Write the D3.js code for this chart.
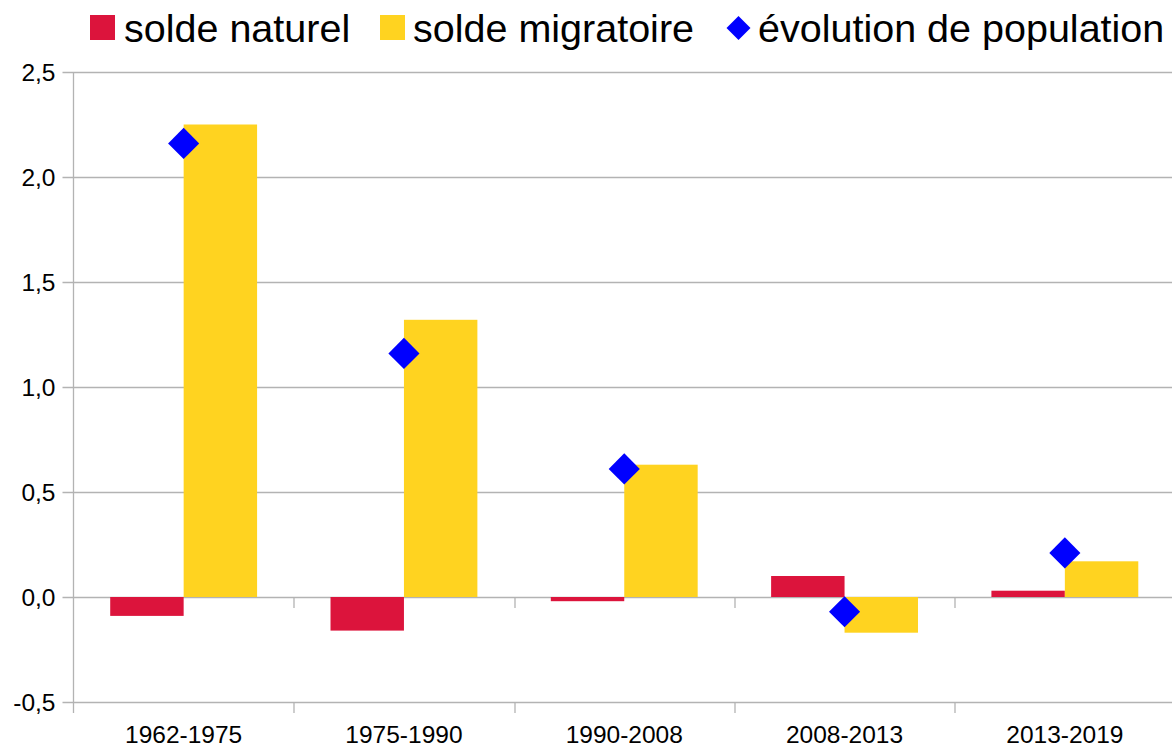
<!DOCTYPE html>
<html>
<head>
<meta charset="utf-8">
<script src="https://cdn.jsdelivr.net/npm/d3@7"></script>
<style>
  body { margin: 0; background: #fff; }
  svg { display: block; font-family: "Liberation Sans", Arial, sans-serif; }
</style>
</head>
<body>
<div id="chart"></div>
<script>
// data
var periods = ["1962-1975", "1975-1990", "1990-2008", "2008-2013", "2013-2019"];
var soldeNaturel = [-0.09, -0.16, -0.02, 0.10, 0.03];
var soldeMigratoire = [2.25, 1.32, 0.63, -0.17, 0.17];
var evolution = [2.16, 1.16, 0.61, -0.07, 0.21];
var yTicks = [-0.5, 0, 0.5, 1, 1.5, 2, 2.5];
var seriesNames = ["solde naturel", "solde migratoire", "évolution de population"];

var W = 1172, H = 748;
var margin = { top: 72, right: -3, bottom: 46, left: 73.5 },
    width = W - margin.left - margin.right,
    height = H - margin.top - margin.bottom;

var svg = d3.select("#chart").append("svg")
    .attr("width", W)
    .attr("height", H);

var g = svg.append("g")
    .attr("transform", "translate(" + margin.left + "," + margin.top + ")");

var x = d3.scaleBand().domain(periods).range([0, width]);
var xSub = d3.scaleBand().domain(["n", "m"]).range([x.bandwidth() / 6, x.bandwidth() * 5 / 6]);
var y = d3.scaleLinear().domain([-0.5, 2.5]).range([height, 0]);

var gridColor = "#b3b3b3";

// horizontal grid + y labels
g.selectAll(".grid").data(yTicks).enter().append("line")
    .attr("x1", -11).attr("x2", width)
    .attr("y1", function (d) { return Math.round(y(d)) + 0.5; })
    .attr("y2", function (d) { return Math.round(y(d)) + 0.5; })
    .attr("stroke", gridColor).attr("stroke-width", 1.3);

g.selectAll(".ylab").data(yTicks).enter().append("text")
    .attr("x", -18)
    .attr("y", function (d) { return y(d) + 9; })
    .attr("text-anchor", "end")
    .style("font-size", "24.5px")
    .text(function (d) { return d.toFixed(1).replace(".", ","); });

// y axis line
g.append("line")
    .attr("x1", 0).attr("x2", 0)
    .attr("y1", 0).attr("y2", height + 11)
    .attr("stroke", gridColor).attr("stroke-width", 1.3);

// category ticks at zero line and bottom
var bounds = periods.slice(1).map(function (p) { return x(p); });
[y(0), height].forEach(function (yy) {
    g.selectAll(null).data(bounds).enter().append("line")
        .attr("x1", function (d) { return Math.round(d) + 0.5; })
        .attr("x2", function (d) { return Math.round(d) + 0.5; })
        .attr("y1", yy).attr("y2", yy + 11)
        .attr("stroke", gridColor).attr("stroke-width", 1.3);
});

// bars
var colors = { n: "#dc143c", m: "#ffd320" };
g.selectAll(".barN").data(soldeNaturel).enter().append("rect")
    .attr("x", function (d, i) { return x(periods[i]) + xSub("n"); })
    .attr("width", xSub.bandwidth())
    .attr("y", function (d) { return y(Math.max(0, d)); })
    .attr("height", function (d) { return Math.abs(y(d) - y(0)); })
    .attr("fill", colors.n);

g.selectAll(".barM").data(soldeMigratoire).enter().append("rect")
    .attr("x", function (d, i) { return x(periods[i]) + xSub("m"); })
    .attr("width", xSub.bandwidth())
    .attr("y", function (d) { return y(Math.max(0, d)); })
    .attr("height", function (d) { return Math.abs(y(d) - y(0)); })
    .attr("fill", colors.m);

// diamonds
var diamond = d3.symbol().type(d3.symbolSquare).size(22 * 22);
g.selectAll(".pt").data(evolution).enter().append("path")
    .attr("d", diamond)
    .attr("transform", function (d, i) {
        return "translate(" + (x(periods[i]) + x.bandwidth() / 2) + "," + y(d) + ") rotate(45)";
    })
    .attr("fill", "#0000ff");

// x labels
g.selectAll(".xlab").data(periods).enter().append("text")
    .attr("x", function (d) { return x(d) + x.bandwidth() / 2; })
    .attr("y", height + 41)
    .attr("text-anchor", "middle")
    .style("font-size", "24.5px")
    .text(function (d) { return d; });

// legend
var legend = svg.append("g");
legend.append("rect").attr("x", 90).attr("y", 15).attr("width", 25).attr("height", 25).attr("fill", colors.n);
legend.append("text").attr("x", 124).attr("y", 42).style("font-size", "39.5px").text(seriesNames[0]);
legend.append("rect").attr("x", 380).attr("y", 15).attr("width", 25).attr("height", 25).attr("fill", colors.m);
legend.append("text").attr("x", 413).attr("y", 42).style("font-size", "39.5px").text(seriesNames[1]);
legend.append("path")
    .attr("d", d3.symbol().type(d3.symbolSquare).size(17 * 17))
    .attr("transform", "translate(738.5,28) rotate(45)")
    .attr("fill", "#0000ff");
legend.append("text").attr("x", 758).attr("y", 42).style("font-size", "39.5px").text(seriesNames[2]);
</script>
</body>
</html>
